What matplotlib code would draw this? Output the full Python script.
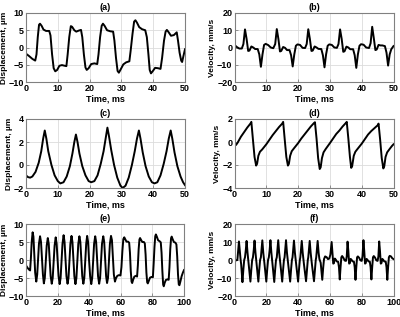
import numpy as np
import matplotlib
matplotlib.use('Agg')
from matplotlib import pyplot as plt

# (time ms, value) points
disp_a = [(0,-1.8),(1,-2.5),(2,-3.3),(2.9,-3.8),(3.3,-2),(3.7,3),(4.1,6.6),(4.4,6.9),(4.9,6.3),
	(5.5,5.2),(6.3,4.8),(7.3,4.8),(7.7,3.5),(8.2,-2),(8.7,-6),(9.2,-6.9),(9.8,-6.5),(10.5,-5.3),
	(11.3,-5.1),(12.2,-5.3),(12.7,-5.4),(13.1,-2),(13.6,3),(14.1,6.2),(14.5,6.0),(15.2,5.0),
	(15.8,4.6),(16.6,4.9),(17.3,5.1),(17.7,3),(18.2,-2),(18.7,-5.8),(19.1,-6.5),(19.7,-6),
	(20.5,-4.8),(21.5,-4.6),(22.4,-4.8),(22.8,-2),(23.3,3),(23.8,6.3),(24.2,6.9),(24.7,6.3),
	(25.5,5.0),(26.5,4.7),(27.4,4.6),(27.8,2),(28.3,-3),(28.8,-6.8),(29.2,-7.3),(29.8,-6.3),
	(30.6,-4.9),(31.5,-4.3),(32.5,-4.0),(32.9,-1),(33.5,4),(34.0,7.5),(34.4,7.9),(34.9,7.2),
	(35.6,5.9),(36.5,5.3),(37.5,5.0),(38.0,3),(38.5,-2),(38.9,-6.5),(39.3,-7.5),(39.9,-6.8),
	(40.6,-5.9),(41.5,-6.0),(42.3,-6.2),(42.8,-3),(43.4,2),(43.9,4.6),(44.3,5.1),(44.8,4.5),
	(45.6,3.4),(46.5,3.6),(47.4,4.4),(47.8,2),(48.3,-1.5),(48.8,-3.8),(49.1,-4.2),(49.5,-2.5),(50,-0.5)]

vel_b = [(0,1.5),(0.7,0.3),(1.5,-0.6),(2.3,-0.6),(2.8,2.0),(3.3,10.5),(3.8,5.0),(4.3,-2.0),(4.7,-1.8),
	(5.3,0.6),(5.9,0.0),(6.5,-0.9),(7.3,-0.9),(7.8,-4.0),(8.3,-11.2),(8.8,-4.0),(9.3,1.5),(9.8,2.1),
	(10.6,1.4),(11.4,0.0),(12.2,-0.4),(12.8,2.0),(13.3,10.7),(13.8,5.0),(14.3,-2.3),(14.7,-2.0),
	(15.3,0.3),(15.9,-0.2),(16.5,-1.5),(17.3,-1.5),(17.8,-4.5),(18.3,-11.0),(18.8,-4.0),(19.3,1.0),
	(19.8,1.8),(20.6,1.5),(21.4,-0.2),(22.2,-0.3),(22.7,2.0),(23.2,10.6),(23.7,5.0),(24.2,-2.0),
	(24.6,-1.8),(25.2,0.6),(25.8,0.0),(26.4,-0.8),(27.3,-0.9),(27.8,-4.5),(28.3,-11.5),(28.8,-4.0),
	(29.3,1.0),(29.8,1.8),(30.6,1.5),(31.4,0.0),(32.2,-0.2),(32.7,2.0),(33.2,10.5),(33.7,5.0),
	(34.2,-2.5),(34.6,-2.2),(35.2,0.5),(35.8,0.0),(36.4,-1.0),(37.3,-1.0),(37.8,-4.5),(38.3,-11.8),
	(38.8,-4.0),(39.3,1.0),(39.8,1.9),(40.6,1.6),(41.4,0.0),(42.3,-0.3),(42.8,2.5),(43.3,12.0),
	(43.8,5.5),(44.3,-1.5),(44.7,-1.2),(45.3,1.5),(45.9,1.2),(46.5,1.2),(47.3,0.8),(47.8,-3.0),
	(48.3,-10.5),(48.8,-4.0),(49.3,-1.0),(50,0.8)]

disp_c = [(0,-0.9),(0.6,-1.05),(1.3,-1.1),(2,-1.0),(3,-0.6),(4,0.2),(4.8,1.2),(5.4,2.3),(5.9,3.0),
	(6.4,2.3),(7,1.2),(8,0),(9,-0.9),(10,-1.4),(10.8,-1.6),(11.8,-1.5),(12.8,-1.0),(13.8,-0.1),
	(14.6,1.0),(15.2,2.0),(15.7,2.65),(16.2,2.0),(16.8,1.0),(17.7,-0.1),(18.7,-0.9),(19.7,-1.4),
	(20.5,-1.5),(21.5,-1.4),(22.5,-0.9),(23.5,0.1),(24.4,1.2),(25.1,2.4),(25.6,3.25),(26.1,2.5),
	(26.8,1.3),(27.7,0),(28.7,-1.1),(29.7,-1.8),(30.4,-2.0),(31.3,-1.8),(32.3,-1.1),(33.3,0),
	(34.2,1.2),(34.9,2.3),(35.5,3.0),(36.0,2.3),(36.7,1.1),(37.6,-0.1),(38.6,-1.0),(39.6,-1.5),
	(40.4,-1.6),(41.3,-1.5),(42.3,-0.9),(43.3,0.1),(44.2,1.2),(44.9,2.3),(45.5,3.0),(46.0,2.3),
	(46.7,1.1),(47.6,-0.1),(48.6,-1.0),(49.4,-1.5),(50,-1.75)]

vel_d = [(0,-0.3),(0.5,-0.25),(1,-0.05),(2,0.45),(3,0.85),(4,1.25),(5,1.6),(5.3,1.75),(5.8,0.2),
	(6.3,-1.3),(6.8,-2.05),(7.1,-1.9),(7.5,-1.2),(8.0,-0.85),(8.7,-0.65),(10,-0.2),(11,0.2),(12,0.6),
	(13,0.95),(14,1.3),(15,1.6),(15.3,1.75),(15.8,0.2),(16.3,-1.3),(16.8,-2.05),(17.1,-1.9),
	(17.5,-1.2),(18,-0.8),(18.7,-0.55),(20,-0.1),(21,0.3),(22,0.65),(23,1.0),(24,1.35),(25,1.65),
	(25.3,1.72),(25.8,0.3),(26.3,-1.4),(26.8,-2.35),(27.1,-2.2),(27.5,-1.4),(28,-0.9),(28.7,-0.6),
	(30,-0.1),(31,0.3),(32,0.7),(33,1.0),(34,1.35),(35,1.65),(35.3,1.75),(35.8,0.3),(36.3,-1.3),
	(36.7,-2.25),(37,-2.1),(37.5,-1.2),(38,-0.85),(38.7,-0.6),(40,-0.15),(41,0.25),(42,0.65),
	(43,0.95),(44,1.2),(45,1.45),(45.3,1.6),(45.8,0.2),(46.3,-1.4),(46.8,-2.3),(47.1,-2.1),
	(47.5,-1.3),(48,-0.9),(48.8,-0.6),(49.5,-0.35),(50,-0.2)]

disp_e = [(0,-1.5),(1,-2.2),(2,-2.7),(2.6,-2.9),(3.1,0.5),(3.6,5.0),(4.2,7.7),(4.7,6.5),(5.2,2.0),
	(5.8,-3.5),(6.5,-6.0),(7.1,-4.0),(7.6,0.0),(8.2,4.5),(8.9,6.6),(9.5,5.0),(10.1,0.5),(10.7,-4.0),
	(11.3,-6.5),(11.9,-5.0),(12.5,-0.5),(13.1,4.0),(13.8,6.1),(14.4,4.5),(15.0,0.0),(15.6,-4.5),
	(16.3,-6.6),(16.9,-5.0),(17.5,-0.5),(18.1,4.0),(18.8,6.3),(19.4,4.5),(20.0,0.0),(20.6,-4.5),
	(21.3,-6.7),(21.9,-5.0),(22.5,-0.5),(23.1,4.5),(23.8,6.9),(24.4,5.0),(25.0,0.0),(25.6,-4.5),
	(26.3,-6.6),(26.9,-5.0),(27.5,-0.5),(28.1,4.5),(28.8,6.7),(29.4,5.0),(30.0,0.0),(30.6,-4.5),
	(31.3,-6.7),(31.9,-5.0),(32.5,-0.5),(33.1,4.5),(33.8,6.6),(34.4,5.0),(35.0,0.0),(35.6,-4.5),
	(36.3,-6.6),(36.9,-5.0),(37.5,-0.5),(38.1,4.5),(38.7,6.7),(39.3,5.0),(39.9,0.0),(40.6,-4.5),
	(41.3,-6.7),(41.9,-5.0),(42.5,-0.5),(43.1,4.5),(43.8,6.6),(44.4,5.0),(45.0,0.0),(45.6,-4.5),
	(46.3,-6.6),(46.9,-5.0),(47.5,-0.5),(48.1,4.5),(48.9,6.6),(49.5,5.0),(50.1,0.0),(50.7,-4.5),
	(51.3,-6.4),(51.9,-5.0),(52.5,-0.5),(53.1,4.5),(53.8,6.7),(54.4,5.5),(55.0,1.0),(55.6,-4.0),
	(56.3,-6.0),(57.0,-5.0),(57.8,-4.4),(58.8,-4.2),(59.8,-4.3),(60.4,-2.0),(61.0,2.5),(61.6,5.8),
	(62.2,6.3),(62.8,5.8),(63.6,5.1),(64.6,5.1),(65.3,4.8),(65.8,2.0),(66.3,-3.0),(66.8,-6.0),
	(67.2,-6.4),(67.8,-5.5),(68.6,-4.6),(69.6,-4.4),(70.3,-4.6),(70.8,-1.5),(71.3,3.0),(71.8,5.7),
	(72.2,6.1),(72.8,5.6),(73.6,5.0),(74.6,5.0),(75.2,4.6),(75.7,1.5),(76.2,-3.5),(76.7,-6.2),
	(77.1,-6.5),(77.7,-5.8),(78.5,-4.9),(79.5,-4.7),(80.3,-4.8),(80.8,-1.0),(81.3,3.5),(81.8,6.6),
	(82.2,7.1),(82.8,6.5),(83.6,5.5),(84.6,5.2),(85.3,4.9),(85.8,2.0),(86.3,-3.0),(86.8,-6.8),
	(87.2,-7.3),(87.8,-6.3),(88.6,-5.5),(89.6,-5.4),(90.3,-5.5),(90.8,-2.0),(91.3,3.0),(91.8,6.0),
	(92.2,6.5),(92.8,5.8),(93.6,5.0),(94.6,4.8),(95.2,4.3),(95.7,1.0),(96.2,-4.0),(96.7,-6.8),
	(97.1,-7.0),(97.7,-6.0),(98.5,-4.5),(99.3,-3.5),(100,-2.8)]

vel_f = [(0,0.2),(1,-0.2),(1.8,0.0),(2.3,5.0),(2.8,10.3),(3.4,4.0),(3.8,0.5),(4.2,-2.5),(5.0,-12.3),
	(5.6,-5.0),(6.1,0.0),(6.6,1.5),(7.1,5.5),(7.6,10.6),(8.2,4.0),(8.6,0.5),(9.0,-2.5),(10.0,-12.0),
	(10.6,-5.0),(11.1,0.0),(11.6,1.5),(12.1,5.5),(12.6,10.8),(13.2,4.0),(13.6,0.5),(14.0,-2.5),
	(15.0,-12.0),(15.6,-5.0),(16.1,0.0),(16.6,1.5),(17.0,5.5),(17.5,10.9),(18.1,4.0),(18.5,0.5),
	(18.9,-2.5),(20.0,-12.0),(20.6,-5.0),(21.1,0.0),(21.6,1.5),(22.1,5.5),(22.6,11.0),(23.2,4.0),
	(23.6,0.5),(24.0,-2.5),(25.0,-12.2),(25.6,-5.0),(26.1,0.0),(26.6,1.5),(27.0,5.5),(27.5,11.0),
	(28.1,4.0),(28.5,0.5),(28.9,-2.5),(30.0,-12.0),(30.6,-5.0),(31.1,0.0),(31.5,1.5),(31.9,5.5),
	(32.4,11.0),(33.0,4.0),(33.4,0.5),(33.8,-2.5),(35.0,-12.0),(35.6,-5.0),(36.1,0.0),(36.5,1.5),
	(36.9,5.5),(37.4,10.8),(38.0,4.0),(38.4,0.5),(38.8,-2.5),(40.0,-12.0),(40.6,-5.0),(41.1,0.0),
	(41.4,1.5),(41.8,5.5),(42.3,10.6),(42.9,4.0),(43.3,0.5),(43.7,-2.5),(45.0,-11.8),(45.6,-5.0),
	(46.1,0.0),(46.4,1.5),(46.8,5.5),(47.3,10.6),(47.9,4.0),(48.3,0.5),(48.7,-2.5),(50.0,-11.8),
	(50.6,-5.0),(51.1,0.0),(51.4,1.5),(51.8,5.5),(52.3,10.6),(52.9,4.0),(53.4,0.5),(54.2,-1.5),
	(55.2,-11.0),(55.8,-4.0),(56.3,0.5),(57.0,2.0),(58.0,1.5),(58.8,0.5),(59.6,0.8),(60.3,3.0),
	(61.1,10.0),(61.6,4.0),(62.1,-2.0),(62.5,-1.8),(63.1,0.8),(63.7,0.2),(64.3,-0.8),(65.2,-1.0),
	(65.7,-4.0),(66.2,-10.8),(66.7,-4.0),(67.2,1.5),(67.7,2.2),(68.5,1.2),(69.3,-0.3),(70.1,-0.5),
	(70.6,2.0),(71.1,10.2),(71.6,5.0),(72.1,-2.0),(72.5,-1.8),(73.1,0.6),(73.7,0.0),(74.3,-0.8),
	(75.1,-0.9),(75.6,-4.0),(76.1,-11.0),(76.6,-4.0),(77.1,1.5),(77.6,2.0),(78.4,1.2),(79.2,-0.2),
	(80.0,-0.5),(80.5,2.0),(81.1,11.0),(81.6,5.0),(82.1,-2.0),(82.5,-1.8),(83.1,0.6),(83.7,0.0),
	(84.3,-0.8),(85.1,-0.9),(85.6,-4.0),(86.1,-10.8),(86.6,-4.0),(87.1,1.5),(87.6,2.2),(88.4,1.3),
	(89.2,-0.2),(90.0,-0.5),(90.5,2.0),(91.0,10.3),(91.5,5.0),(92.0,-2.0),(92.4,-1.8),(93.0,0.6),
	(93.6,0.0),(94.2,-0.8),(95.1,-0.9),(95.6,-4.0),(96.1,-11.0),(96.6,-4.0),(97.1,1.5),(97.6,2.3),
	(98.4,2.0),(99.2,1.0),(100,0.5)]

titles = ['(a)', '(b)', '(c)', '(d)', '(e)', '(f)']
ylabels = ['Displacement, \u00b5m', 'Velocity, mm/s'] * 3
yticks = [[-10,-5,0,5,10], [-20,-10,0,10,20], [-2,0,2,4], [-4,-2,0,2],
	[-10,-5,0,5,10], [-20,-10,0,10,20]]
xticks = [[0,10,20,30,40,50]] * 4 + [[0,20,40,60,80,100]] * 2
series = [disp_a, vel_b, disp_c, vel_d, disp_e, vel_f]

plt.rcParams['font.family'] = ['Liberation Sans', 'DejaVu Sans']
plt.rcParams['font.weight'] = 'bold'
fs = 6.5

fig = plt.figure(figsize=(4.0, 3.17), dpi=100)
# axes boxes in pixels: left, top, right, bottom
boxes = [(26,13,185,82), (234.5,13,393.5,82),
	(26,119,185,188), (234.5,119,393.5,188),
	(26,224,184,296), (234.5,224,393.5,296)]

for k in range(6):
	l, t, r, b = boxes[k]
	ax = fig.add_axes([l/400.0, 1-b/317.0, (r-l)/400.0, (b-t)/317.0])
	pts = np.array(series[k]).T
	ax.plot(pts[0], pts[1], color='black', lw=1.4)
	ax.set_xlim(xticks[k][0], xticks[k][-1])
	ax.set_ylim(yticks[k][0], yticks[k][-1])
	ax.set_xticks(xticks[k])
	ax.set_yticks(yticks[k])
	ax.grid(True, color='#dcdcdc', lw=0.6)
	ax.set_axisbelow(True)
	for s in ax.spines.values():
		s.set_color('#808080')
		s.set_linewidth(0.8)
	ax.tick_params(direction='in', length=2, width=0.6, color='#808080', pad=1.5, labelsize=fs)
	ax.set_title(titles[k], fontsize=fs, fontweight='bold', pad=2.5)
	ax.set_xlabel('Time, ms', fontsize=fs, fontweight='bold', labelpad=1)
	ax.set_ylabel(ylabels[k], fontsize=6, fontweight='bold', labelpad=0.5)

fig.savefig('out.png', dpi=100)
